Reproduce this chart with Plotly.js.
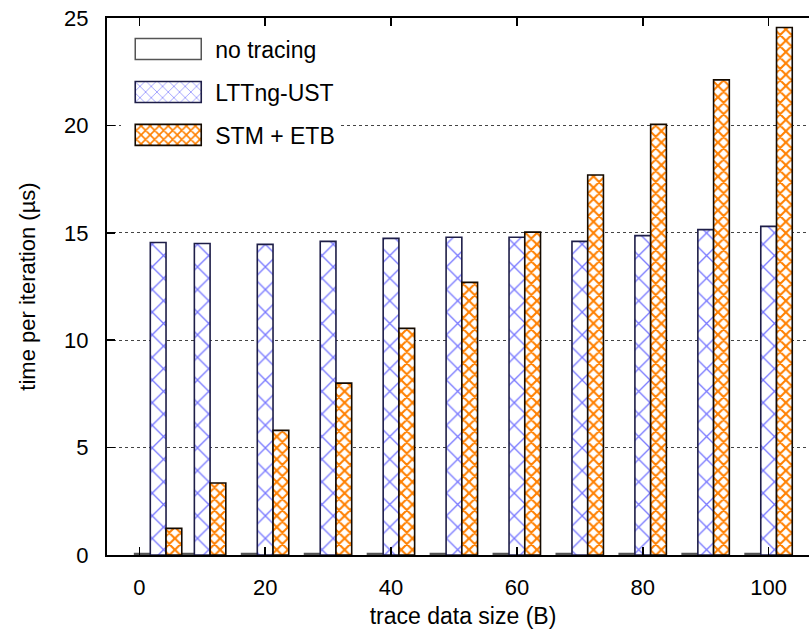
<!DOCTYPE html>
<html>
<head>
<meta charset="utf-8">
<script src="https://cdn.plot.ly/plotly-3.0.1.min.js"></script>
<style>html,body{margin:0;padding:0;overflow:hidden;background:#fff}</style>
</head>
<body>
<div id="chart" style="width:819px;height:629px"></div>
<script>
// Data
const dataSizes = [3, 10, 20, 30, 40, 50, 60, 70, 80, 90, 100];
const noTracing = [0.07, 0.07, 0.07, 0.07, 0.07, 0.07, 0.07, 0.07, 0.07, 0.07, 0.07];
const lttngUst  = [14.55, 14.5, 14.46, 14.6, 14.74, 14.79, 14.79, 14.6, 14.87, 15.15, 15.3];
const stmEtb    = [1.24, 3.35, 5.8, 8.0, 10.55, 12.69, 15.03, 17.69, 20.05, 22.12, 24.56];
const seriesNames = ["no tracing", "LTTng-UST", "STM + ETB"];
const xTickVals = [0, 20, 40, 60, 80, 100];
const yTickVals = [0, 5, 10, 15, 20, 25];

const FONT = '"Liberation Sans", Arial, Helvetica, sans-serif';
const BW = 2.5;

const traces = [
  {
    type: 'bar', name: seriesNames[0], x: dataSizes, y: noTracing,
    width: BW, offset: -1.5 * BW, legendgroup: 'a',
    marker: { color: 'white', line: { color: '#555', width: 1.5 } },
    hoverinfo: 'skip'
  },
  {
    type: 'bar', name: seriesNames[1], x: dataSizes, y: lttngUst,
    width: BW, offset: -0.5 * BW, legendgroup: 'b',
    marker: {
      color: 'white',
      line: { color: '#1e1e48', width: 1.6 },
      pattern: { shape: 'x', fgcolor: '#7878ff', bgcolor: 'white', size: 16, solidity: 0.16 }
    },
    hoverinfo: 'skip'
  },
  {
    type: 'bar', name: seriesNames[2], x: dataSizes, y: stmEtb,
    width: BW, offset: 0.5 * BW, legendgroup: 'c',
    marker: {
      color: 'white',
      line: { color: '#140a00', width: 1.6 },
      pattern: { shape: 'x', fgcolor: '#ff8000', bgcolor: 'white', size: 8, solidity: 0.45 }
    },
    hoverinfo: 'skip'
  }
];

const layout = {
  width: 819, height: 629,
  margin: { l: 107, r: 0, t: 18, b: 74 },
  paper_bgcolor: 'white', plot_bgcolor: 'white',
  font: { family: FONT, size: 22, color: '#000' },
  barmode: 'overlay',
  showlegend: true,
  legend: {
    x: 0.02, y: 0.982, xanchor: 'left', yanchor: 'top',
    bgcolor: 'white', borderwidth: 0,
    font: { family: FONT, size: 23, color: '#000' },
    itemwidth: 84, tracegroupgap: 10, traceorder: 'grouped'
  },
  xaxis: {
    range: [-5.13, 108.0],
    tickvals: xTickVals, ticktext: xTickVals.map(String),
    ticks: 'inside', ticklen: 8, tickwidth: 1.5, tickcolor: '#000',
    showline: true, linewidth: 2, linecolor: '#000', mirror: 'ticks',
    showgrid: false, zeroline: false,
    ticklabelstandoff: 12,
    title: { text: 'trace data size (B)', font: { family: FONT, size: 23 }, standoff: 8 },
    automargin: false
  },
  yaxis: {
    range: [0, 25],
    tickvals: yTickVals, ticktext: yTickVals.map(String),
    ticks: 'inside', ticklen: 8, tickwidth: 1.5, tickcolor: '#000',
    showline: true, linewidth: 2, linecolor: '#000', mirror: 'ticks',
    showgrid: true, gridcolor: '#444', gridwidth: 1, griddash: 'dot',
    zeroline: false,
    ticklabelstandoff: 12,
    title: { text: 'time per iteration (µs)', font: { family: FONT, size: 22 }, standoff: 22 },
    automargin: false
  }
};

Plotly.newPlot('chart', traces, layout, { staticPlot: true, displayModeBar: false }).then(function (gd) {
  // widen the legend key boxes to resemble the original wide swatches
  gd.querySelectorAll('.legend .legendpoints path').forEach(function (p) {
    p.setAttribute('d', 'M33,10.5H-33V-10.5H33Z');
  });
});
</script>
</body>
</html>
